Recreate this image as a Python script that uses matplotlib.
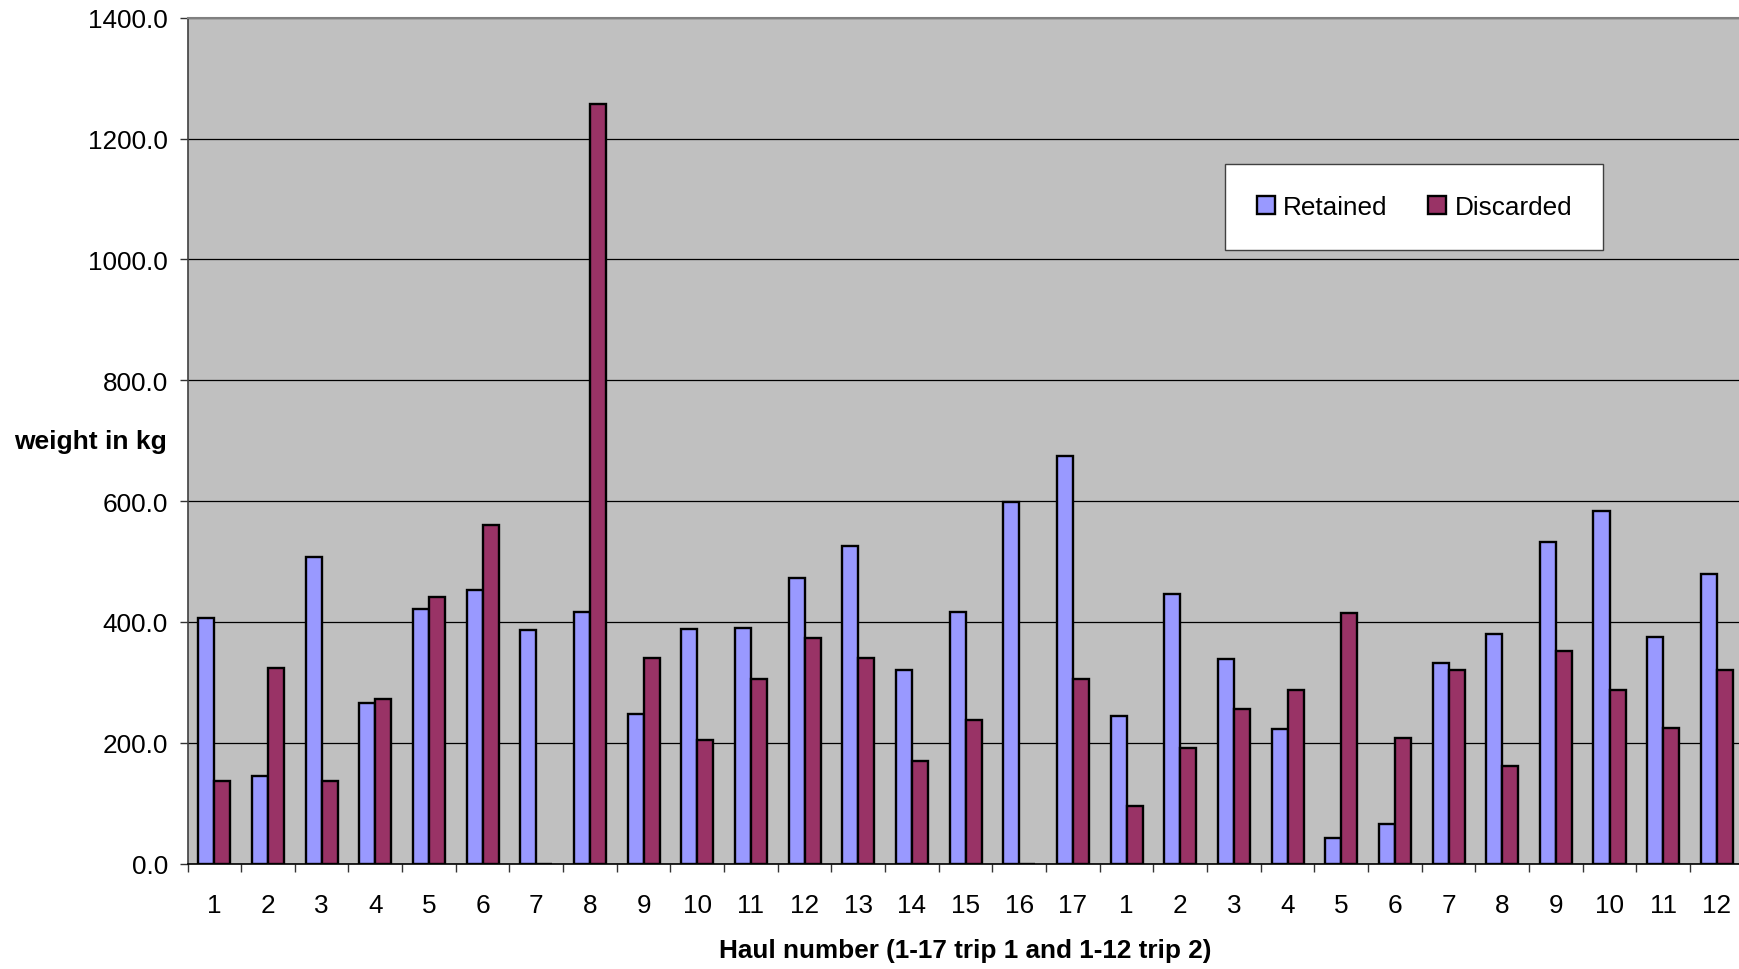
import matplotlib.pyplot as plt
import numpy as np

plt.rcParams['font.family'] = ['Liberation Sans', 'DejaVu Sans']

# haul labels: trip 1 (1-17) followed by trip 2 (1-12)
hauls = [str(i) for i in range(1, 18)] + [str(i) for i in range(1, 13)]

retained = [406, 145, 507, 265, 421, 453, 387, 416, 248, 388, 390, 472, 526, 321, 417, 598, 674,
            244, 446, 338, 223, 43, 65, 332, 380, 532, 584, 375, 480]
discarded = [136, 323, 136, 272, 442, 561, 0, 1257, 340, 204, 306, 374, 340, 170, 238, 0, 306,
             96, 192, 256, 288, 415, 208, 320, 161, 352, 288, 224, 320]

yticks = [0, 200, 400, 600, 800, 1000, 1200, 1400]

fig = plt.figure(figsize=(17.4, 9.7), dpi=100)
ax = fig.add_axes([0.10776, 0.10876, 0.8944, 0.8718])
ax.set_facecolor('#C0C0C0')

x = np.arange(len(hauls))
w = 0.3
b1 = ax.bar(x - w / 2, retained, w, color='#9999FF', edgecolor='black', linewidth=1.7,
            label='Retained', zorder=3)
b2 = ax.bar(x + w / 2, discarded, w, color='#993366', edgecolor='black', linewidth=1.7,
            label='Discarded', zorder=3)

ax.set_xlim(-0.5, len(hauls) - 0.5)
ax.set_ylim(0, 1400)
ax.set_yticks(yticks)
ax.set_yticklabels([f'{v:.1f}' for v in yticks])
ax.grid(axis='y', color='black', linewidth=0.9, zorder=1)

# ticks between categories, labels at category centres
ax.set_xticks(np.arange(-0.5, len(hauls) + 0.5, 1))
ax.set_xticklabels([])
ax.set_xticks(x, minor=True)
ax.set_xticklabels(hauls, minor=True)
ax.tick_params(axis='x', which='major', direction='out', length=6, width=1, color='#333333')
ax.tick_params(axis='x', which='minor', length=0, pad=21, labelsize=18.8)
ax.tick_params(axis='y', direction='out', length=6, width=1, color='#333333', pad=8,
               labelsize=18.8)

ax.spines['top'].set_color('#808080')
ax.spines['top'].set_linewidth(1.5)
ax.spines['left'].set_color('#404040')
ax.spines['left'].set_linewidth(1.2)
ax.spines['bottom'].set_color('black')
ax.spines['bottom'].set_linewidth(1.2)
ax.spines['right'].set_visible(False)

ax.set_xlabel('Haul number (1-17 trip 1 and 1-12 trip 2)', fontsize=18.8, fontweight='bold')
ax.xaxis.set_label_coords(0.5, -0.1023)
ax.xaxis.label.set_va('center')
ax.set_ylabel('weight in kg', fontsize=19, fontweight='bold', rotation=0,
              ha='right', va='center')
ax.yaxis.set_label_coords(-0.0135, 0.5)

leg = ax.legend(handles=[b1, b2], loc='center', bbox_to_anchor=(0.8129, 0.7856),
                bbox_transform=fig.transFigure, ncol=2, fontsize=18.8, frameon=True,
                fancybox=False, framealpha=1, edgecolor='#404040', borderpad=1.2,
                handlelength=0.68, handleheight=0.68, handletextpad=0.33,
                columnspacing=1.55)
leg.get_frame().set_linewidth(1.0)

fig.savefig('out.png', dpi=100)
